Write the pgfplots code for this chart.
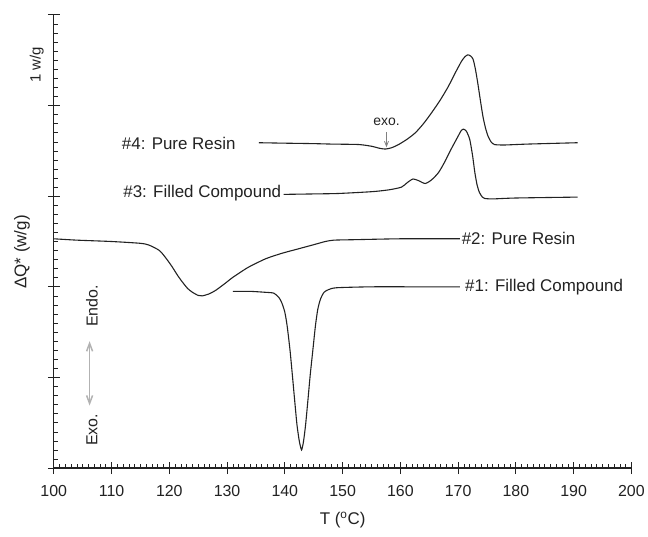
\documentclass[border=0pt]{standalone}
\usepackage{fontspec}
\setmainfont{Liberation Sans}
\usepackage{pgfplots}
\pgfplotsset{compat=1.18}
\usetikzlibrary{arrows.meta}

\definecolor{ink}{HTML}{222222}
\pgfplotsset{curve/.style={ink, line width=1.1pt, smooth, tension=0.4, mark=none}}

\begin{document}
\begin{tikzpicture}
\begin{axis}[
scale only axis,
width=580pt, height=455pt,
xmin=100, xmax=200, ymin=0, ymax=5,
axis x line*=bottom, axis y line*=left,
axis line style={ink, line width=1.2pt, -},
xtick={100,110,...,200}, ytick={0,1,...,5},
minor x tick num=9, minor y tick num=9,
yticklabels={},
tick align=center,
major tick length=12pt, minor tick length=4.5pt,
every minor x tick/.append style={yshift=2.25pt},
every minor y tick/.append style={xshift=2.25pt},
tick style={ink, line width=0.6pt},
every major tick/.append style={line width=0.9pt},
/pgf/number format/assume math mode=true,
xticklabel style={font=\fontsize{16}{19}\selectfont, text=ink, yshift=-8pt},
xlabel={T (\textsuperscript{o}C)},
xlabel style={at={(axis description cs:0.5,0)}, anchor=center, yshift=-52pt, font=\fontsize{17}{20}\selectfont, text=ink},
clip=false,
]
% #1 filled compound
\addplot[curve] coordinates {
(131.0,1.95) (134,1.95) (136.5,1.94) (138.1,1.93) (139.0,1.88) (139.5,1.82)
(140.0,1.72) (140.4,1.57) (140.9,1.30) (141.3,1.03) (141.7,0.75) (142.1,0.48)
(142.5,0.30) (142.9,0.20) (143.25,0.30) (143.6,0.48) (144.0,0.75) (144.4,1.03)
(144.85,1.30) (145.3,1.57) (145.7,1.75) (146.2,1.87) (146.8,1.94) (147.6,1.97)
(149.0,1.99) (155,2.00) (163,2.00) (170.3,2.00)};
% #2 pure resin
\addplot[curve] coordinates {
(100,2.53) (104,2.515) (110,2.50) (115,2.48) (116.5,2.46) (118.3,2.40)
(119.5,2.31) (120.5,2.22) (121.5,2.12) (122.3,2.05) (123.2,1.98) (124,1.94)
(125,1.905) (125.7,1.90) (126.8,1.92) (128.0,1.96) (129.5,2.03) (130.9,2.10)
(132.3,2.16) (133.8,2.22) (136.7,2.31) (139.5,2.37) (142.4,2.42) (145.3,2.47)
(147.0,2.50) (148.5,2.515) (152,2.52) (160,2.53) (170.3,2.53)};
% #3 filled compound
\addplot[curve] coordinates {
(139.8,3.02) (145,3.025) (149.3,3.03) (155.1,3.05) (158,3.07) (160.2,3.10)
(161.2,3.15) (162.2,3.19) (163.2,3.17) (164.3,3.14) (165.4,3.18) (166.6,3.26)
(167.7,3.38) (168.8,3.52) (169.9,3.65) (170.5,3.72) (170.9,3.74) (171.4,3.72)
(172.0,3.63) (172.5,3.45) (172.9,3.26) (173.3,3.12) (173.7,3.04) (174.2,2.99)
(174.6,2.975) (176,2.97) (180,2.98) (190.7,2.99)};
% #4 pure resin
\addplot[curve] coordinates {
(135.5,3.59) (140,3.585) (145,3.58) (148.1,3.575) (152.8,3.57) (155.1,3.55)
(156.3,3.53) (157.4,3.52) (158.5,3.535) (159.7,3.57) (161.2,3.63) (162.6,3.70)
(164,3.80) (165.4,3.92) (166.9,4.06) (168.3,4.21) (169.5,4.36) (170.6,4.49)
(171.2,4.54) (171.7,4.56) (172.2,4.545) (172.6,4.51) (173.0,4.40) (173.4,4.25)
(173.85,4.06) (174.3,3.88) (174.75,3.75) (175.2,3.66) (175.7,3.60) (176.3,3.57)
(178,3.565) (182,3.575) (190.7,3.59)};

\begin{scope}[every node/.style={font=\fontsize{17}{20}\selectfont, text=ink, inner sep=0pt}]
\node[anchor=east] at (axis cs:131.5,3.58) {\#4: Pure Resin};
\node[anchor=east] at (axis cs:139.4,3.03) {\#3: Filled Compound};
\node[anchor=west] at (axis cs:170.6,2.53) {\#2: Pure Resin};
\node[anchor=west] at (axis cs:171.2,2.00) {\#1: Filled Compound};
\end{scope}

\node[font=\fontsize{14}{16}\selectfont, text=ink] at (axis cs:157.6,3.82) {exo.};
\draw[gray, line width=0.8pt, -{Straight Barb[length=5pt,width=4pt]}] (axis cs:157.6,3.71) -- (axis cs:157.6,3.54);

\draw[gray!60, line width=1.5pt, {Straight Barb[length=8pt,width=6pt]}-{Straight Barb[length=8pt,width=6pt]}] (axis cs:106.2,1.40) -- (axis cs:106.2,0.69);
\node[rotate=90, font=\fontsize{16}{19}\selectfont, text=ink] at (axis cs:106.6,1.79) {Endo.};
\node[rotate=90, font=\fontsize{16}{19}\selectfont, text=ink] at (axis cs:106.6,0.42) {Exo.};

\node[rotate=90, font=\fontsize{15}{18}\selectfont, text=ink] at ([xshift=-17pt]rel axis cs:0,0.890) {1 w/g};
\node[rotate=90, font=\fontsize{17}{20}\selectfont, text=ink] at ([xshift=-32pt]rel axis cs:0,0.477) {ΔQ* (w/g)};

\coordinate (O) at (rel axis cs:0,0);
\end{axis}
\path ([shift={(-54pt,-69pt)}]O) rectangle ([shift={(594pt,470pt)}]O);
\end{tikzpicture}
\end{document}
